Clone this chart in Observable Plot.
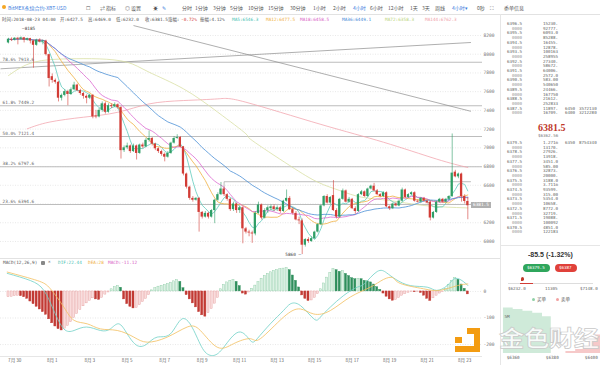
<!DOCTYPE html>
<html><head><meta charset="utf-8">
<script src="https://cdn.jsdelivr.net/npm/d3@7"></script>
<script src="https://cdn.jsdelivr.net/npm/@observablehq/plot@0.6"></script>
<style>
body{margin:0;background:#fff;}
#root{position:relative;width:600px;height:365px;overflow:hidden;font-family:"Noto Sans CJK SC","Noto Sans",sans-serif;background:#fff;}
.t{position:absolute;white-space:nowrap;line-height:1;}
.tb{font-size:5px;color:#555;top:5px;}
.info{font-size:4.4px;color:#555;top:18px;font-family:"DejaVu Sans Mono","Noto Sans CJK SC",monospace;}
.ob{font-size:4.2px;color:#666;font-family:"DejaVu Sans Mono",monospace;}
svg{position:absolute;overflow:visible;}
</style></head><body><div id="root"></div>
<script>
// ---------- DATA ----------
const opens  = [8120,8160,8150,8170,8160,8175,8150,8165,8140,8095,8150,8130,8140,7995,7760,7720,7700,7530,7560,7600,7570,7620,7670,7610,7580,7550,7530,7560,7340,7330,7400,7470,7380,7450,7440,7460,7430,6970,7000,7020,6960,7020,6940,7030,7010,7080,7100,7040,6990,6960,6930,6900,6940,7050,7100,7110,7010,6720,6580,6460,6440,6460,6310,6260,6300,6260,6330,6440,6500,6560,6500,6450,6340,6400,6330,6360,6135,6100,6090,6080,6300,6390,6250,6330,6350,6370,6340,6360,6320,6430,6460,6340,6300,6230,6220,5960,6020,6000,6030,6100,6180,6380,6480,6410,6490,6330,6260,6450,6540,6420,6450,6350,6320,6500,6530,6480,6560,6590,6540,6500,6480,6520,6370,6350,6400,6380,6430,6550,6470,6500,6520,6430,6420,6460,6430,6420,6250,6310,6420,6450,6420,6450,6480,6740,6690,6720,6480,6427.5];
const highs  = [8170,8175,8178,8180,8185,8180,8172,8170,8150,8160,8165,8150,8150,8000,7790,7735,7710,7575,7620,7615,7640,7700,7680,7625,7590,7565,7575,7570,7400,7420,7490,7490,7470,7470,7480,7470,7440,7020,7050,7030,7040,7030,7040,7050,7100,7180,7110,7050,7000,6975,6945,6960,7060,7120,7140,7120,7015,6730,6590,6480,6470,6470,6320,6320,6310,6340,6450,6520,6630,6580,6510,6460,6420,6410,6380,6370,6150,6120,6110,6320,6420,6400,6350,6380,6390,6390,6380,6375,6440,6550,6480,6360,6320,6260,6240,6030,6040,6050,6110,6190,6390,6490,6500,6480,6650,6350,6460,6560,6550,6470,6460,6370,6510,6545,6540,6570,6600,6620,6555,6510,6530,6530,6380,6410,6415,6440,6570,6560,6510,6530,6530,6445,6470,6470,6440,6430,6320,6430,6460,6460,6460,6490,7148,6760,6730,6730,6500,6469];
const lows   = [8110,8135,8140,8100,8150,8120,8140,8110,7850,8085,8120,8100,7980,7650,7690,7680,7490,7500,7545,7450,7560,7610,7600,7560,7520,7470,7515,7310,7310,7320,7380,7360,7370,7420,7430,7410,6880,6950,6980,6940,6950,6870,6930,6990,7000,7060,7020,6970,6940,6910,6850,6890,6930,7040,7090,7000,6700,6560,6440,6420,6430,6100,6240,6250,6240,6250,6190,6430,6490,6480,6430,6320,6320,6300,6300,5975,6080,6050,5980,6060,6290,6230,6240,6300,6330,6320,6320,6300,6310,6420,6330,6280,6220,6180,5860,5940,5980,5990,6020,6090,6170,6370,6400,6390,6320,6240,6250,6440,6410,6410,6340,6290,6310,6490,6470,6470,6550,6530,6490,6470,6470,6360,6330,6340,6370,6370,6420,6460,6460,6490,6420,6410,6410,6420,6400,6220,6240,6300,6410,6410,6410,6440,6470,6680,6670,6420,6400,6232];
const closes = [8160,8150,8170,8160,8175,8150,8165,8140,8095,8150,8130,8140,7995,7740,7720,7700,7530,7560,7600,7570,7620,7670,7610,7580,7550,7530,7560,7330,7330,7400,7470,7380,7450,7440,7460,7430,6970,7000,7020,6960,7020,6940,7030,7010,7080,7100,7040,6990,6960,6930,6900,6940,7050,7100,7110,7010,6720,6580,6460,6440,6460,6310,6260,6300,6260,6330,6440,6500,6560,6500,6450,6340,6400,6330,6360,6135,6100,6090,6080,6300,6390,6250,6330,6360,6370,6340,6360,6320,6430,6460,6340,6300,6230,6220,5960,6020,6000,6030,6100,6180,6380,6480,6410,6470,6330,6260,6450,6540,6420,6450,6350,6320,6500,6530,6480,6560,6590,6540,6500,6480,6520,6370,6350,6400,6380,6430,6550,6470,6500,6520,6430,6420,6460,6430,6410,6250,6310,6420,6450,6420,6450,6480,6730,6690,6720,6480,6427.5,6381.5];
const macdHist = [-22,-20,-18,-16,-18,-22,-28,-38,-48,-58,-68,-78,-88,-105,-120,-132,-142,-147,-140,-130,-116,-100,-85,-70,-56,-45,-35,-26,-30,-32,-24,-12,-4,8,16,20,14,-30,-48,-58,-64,-62,-52,-40,-28,-14,4,12,18,21,24,28,33,38,42,36,12,-14,-30,-45,-60,-78,-90,-95,-82,-66,-46,-24,8,24,34,40,43,36,20,-8,-12,-4,10,22,35,48,58,66,72,77,80,84,86,88,80,60,40,15,-15,-28,-36,-34,-24,-10,8,30,52,70,84,80,74,76,66,58,50,46,48,46,40,38,34,26,16,6,-8,-20,-30,-35,-32,-25,-16,-10,-5,-2,-3,-2,-6,-16,-28,-36,-26,-16,-8,-3,10,25,40,50,44,26,10,-11.12];
const difPts = [[-0.4,68],[7,41],[11.3,4],[14.5,-72],[17.7,-141],[21,-147],[25,-134],[29.4,-147],[32.6,-141],[35.3,-122],[38,-160],[41.2,-204],[44.4,-197],[47.6,-172],[51.8,-160],[55.6,-103],[59.3,-147],[62.5,-222],[65.7,-241],[68.9,-210],[73.7,-153],[77.4,-185],[79.6,-178],[83.8,-122],[88,-72],[90.2,-47],[93.4,-53],[97.7,-103],[99.8,-97],[103,-59],[107.3,-15],[111.6,16],[114,30],[118,75],[121,70],[124,45],[128.6,22],[134,16],[137,4],[140.4,22],[143,49],[145.7,36],[147,22.44]];
const deaPts = [[-0.4,73],[9.2,41],[13.4,10],[17.7,-59],[21,-109],[25.2,-122],[29.4,-141],[34.8,-147],[40.1,-172],[44.4,-191],[50.8,-172],[57.2,-134],[61.4,-147],[66.8,-210],[72,-197],[77.4,-178],[80.6,-178],[88,-97],[93.4,-66],[97.7,-85],[103,-72],[109.4,-21],[115.8,16],[120,45],[123,52],[125.4,30],[132.8,10],[138,4],[143.7,22],[147,28]];
const ma72Pts  = [[0,7772],[8,7914],[19,7950],[29,7950],[38,7914],[45,7808],[56,7630],[67,7380],[76,7149],[78,7078],[90,6811],[99,6633],[106,6544],[113,6473],[122,6437],[133,6384],[147,6358.3]];
const ma144Pts = [[6,7203],[13,7274],[24,7327],[35,7380],[45,7469],[56,7505],[67,7523],[76,7487],[100,7250],[120,7060],[137,6880],[147,6790]];
const fibPcts   = ["78.6%","61.8%","50.0%","38.2%","23.6%"];
const fibPrices = [7913.6,7449.2,7121.4,6797.6,6394.6];
const trendLines = [{i1:40,p1:8306,i2:148,p2:7390},{i1:-2.56,p1:7844,i2:148,p2:8125}];
const userLine = {i1:69,i2:148,p:6638,pTick:6548};
const priceTicks = [6000,6200,6400,6600,6800,7000,7200,7400,7600,7800,8000,8200];
const macdTicks = [0,-100,-200];
const dateIdx = [2,14,26,38,50,62,74,86,98,110,122,134,146];
const dateLabels = ["7月 30","8月 1","8月 3","8月 5","8月 7","8月 9","8月 11","8月 13","8月 15","8月 17","8月 19","8月 21","8月 23"];
const highMark = {i:4,p:8185}, lowMark = {i:94,p:5860};
const lastPrice = 6381.5;
const maLegend = [["MA5:6546.3","#45c2b1",232],["MA12:6477.5","#f0b040",266],["MA18:6458.5","#d75cc4",300],["MA36:6449.1","#3f86d6",342],["MA72:6358.3","#b9d37a",385],["MA144:6762.3","#f0a0a8",425]];
const maSpecs = [[5,"#5fcabd"],[12,"#f0b040"],[18,"#dc6ad0"],[36,"#4a8fd6"]];
const askPrices = ["6396.5","6395.5","6394.5","6393.5","6392.5","6391.5","6390.5","6389.5","6388.5","6387.5"];
const askA = ["15230.","6093.0","16455.","100163","27340.","64006.","583.00","24466.","21612.","11897."];
const askB = ["92777.","85288.","12878.","258955","58672.","2572.0","540650","167750","252833","16709."];
const bidPrices = ["6379.5","6378.5","6377.5","6376.5","6375.5","6374.5","6373.5","6372.5","6371.5","6370.5"];
const bidA = ["1.271m","27926.","3451.0","32873.","3188.0","93599.","5354.0","8772.0","19088.","4851.0"];
const bidB = ["13170.","13918.","585.00","20000.","3.711m","315.00","10658.","32719.","100092","122183"];
const bidDepthP = [6355,6360,6365,6370,6375,6379.5];
const bidDepthV = [7.1,6.9,6.7,6.4,6.1,5.6];
const askDepthP = [6387,6392,6396,6399,6402,6406];
const askDepthV = [0.3,0.6,1.0,2.0,2.8,3.2];
const depthTicks = [6360,6380,6400];

// ---------- BUILD ----------
const root = document.getElementById("root");
const candles = opens.map((o,i)=>({i,open:o,high:highs[i],low:lows[i],close:closes[i]}));
const UP="#2f9e66", DN="#d23c36";
const col = d => d.close>=d.open?UP:DN;
const xDom=[-2.56,151.7];
const fibs = fibPcts.map((p,k)=>({pct:p,price:fibPrices[k]}));
const pts = a => a.map(([i,v])=>({i,v}));
// the current-price tag covers the nearest axis label, as in the original
const labelTicks = priceTicks.filter(t=>Math.abs(t-lastPrice)>60);

const main = Plot.plot({
  width:500,height:233,marginTop:0,marginBottom:0,marginLeft:0,marginRight:18,
  x:{domain:xDom,axis:null}, y:{domain:[5818,8306.5]},
  style:{fontFamily:"DejaVu Sans Mono",fontSize:"4.6px",background:"transparent",color:"#777"},
  marks:[
    Plot.ruleY(priceTicks,{stroke:"#d8d8d8",strokeDasharray:"1,1.5",strokeWidth:0.6}),
    Plot.axisY({anchor:"right",ticks:labelTicks,tickSize:0,tickPadding:1,label:null,tickFormat:d=>String(d),fill:"#777"}),
    Plot.ruleY(fibs,{y:"price",stroke:"#bdbdbd",strokeWidth:1.1}),
    Plot.text(fibs,{y:"price",frameAnchor:"left",text:d=>`${d.pct} ${d.price.toFixed(1)}`,textAnchor:"start",dx:2,dy:-3.2,fill:"#666",fontSize:4.4}),
    Plot.link(trendLines,{x1:"i1",y1:"p1",x2:"i2",y2:"p2",stroke:"#8c8c8c",strokeWidth:0.7}),
    Plot.link([userLine],{x1:"i1",y1:"p",x2:"i2",y2:"p",stroke:"#a0a0a0",strokeWidth:0.7}),
    Plot.link([userLine],{x1:"i1",y1:"p",x2:"i1",y2:"pTick",stroke:"#a0a0a0",strokeWidth:0.7}),
    Plot.line(pts(ma144Pts),{x:"i",y:"v",stroke:"#f2a7b0",strokeWidth:0.8,curve:"natural"}),
    Plot.line(pts(ma72Pts),{x:"i",y:"v",stroke:"#d9dfa4",strokeWidth:0.8,curve:"natural"}),
    ...maSpecs.map(([k,c])=>Plot.lineY(candles,Plot.windowY({k,anchor:"end"},{x:"i",y:"close",stroke:c,strokeWidth:0.8}))),
    Plot.ruleX(candles,{x:"i",y1:"low",y2:"high",stroke:col,strokeWidth:0.6}),
    Plot.rect(candles,{x1:d=>d.i-0.36,x2:d=>d.i+0.36,y1:"open",y2:"close",fill:col}),
    Plot.text([highMark],{x:"i",y:"p",text:d=>"—"+d.p,textAnchor:"start",dx:1,dy:-8,fill:"#444",fontSize:4.4}),
    Plot.text([lowMark],{x:"i",y:"p",text:d=>d.p+" —",textAnchor:"end",dx:-1,dy:0,fill:"#444",fontSize:4.4})
  ]});
main.style.left="0px"; main.style.top="25px";
root.appendChild(main);

const lbl = new Map(dateIdx.map((d,k)=>[d,dateLabels[k]]));
const hist = macdHist.map((v,i)=>({i,v,rise:i>0?v>=macdHist[i-1]:true}));
const histFill = d => d.v>=0 ? (d.rise?"#dcf1e4":"#2f8f5c") : (d.rise?"#f9dcdc":"#c23a34");
const histStroke = d => d.v>=0 ? (d.rise?"#86c9a0":"#2f8f5c") : (d.rise?"#e49a9a":"#c23a34");
const macd = Plot.plot({
  width:500,height:107,marginTop:0,marginBottom:9,marginLeft:0,marginRight:18,
  x:{domain:xDom}, y:{domain:[-245,124]},
  style:{fontFamily:"DejaVu Sans Mono",fontSize:"4.6px",background:"transparent",color:"#777"},
  marks:[
    Plot.ruleY(macdTicks,{stroke:"#d8d8d8",strokeDasharray:"1,1.5",strokeWidth:0.6}),
    Plot.axisY({anchor:"right",ticks:macdTicks,tickSize:0,tickPadding:1,label:null,tickFormat:d=>String(d),fill:"#777"}),
    Plot.axisX({ticks:dateIdx,tickFormat:d=>lbl.get(d),tickSize:0,tickPadding:2,label:null,fill:"#666",fontFamily:"Noto Sans CJK SC"}),
    Plot.rect(hist,{x1:d=>d.i-0.33,x2:d=>d.i+0.33,y1:0,y2:"v",fill:histFill,stroke:histStroke,strokeWidth:0.4}),
    Plot.line(pts(difPts),{x:"i",y:"v",stroke:"#6fd0c6",strokeWidth:0.8,curve:"natural"}),
    Plot.line(pts(deaPts),{x:"i",y:"v",stroke:"#f2bf5e",strokeWidth:0.8,curve:"natural"})
  ]});
macd.style.left="0px"; macd.style.top="258px";
root.appendChild(macd);

function txt(x,y,s,cls,extra){const e=document.createElement("div");e.className="t "+cls;e.style.left=x+"px";if(y!=null)e.style.top=y+"px";e.textContent=s;if(extra)Object.assign(e.style,extra);root.appendChild(e);return e;}
function box(x,y,w,h,st){const e=document.createElement("div");e.style.position="absolute";Object.assign(e.style,{left:x+"px",top:y+"px",width:w+"px",height:h+"px"},st);root.appendChild(e);return e;}

// frame lines
box(0,14,600,0.6,{background:"#e2e2e2"});
box(500,14,0.6,351,{background:"#e6e6e6"});
box(0,258,500,0.6,{background:"#e2e2e2"});
box(0,356,482,0.6,{background:"#e6e6e6"});

// toolbar
box(1.5,5,4,4,{background:"#f5a623",borderRadius:"50%"});
txt(8,null,"BitMEX永续合约-XBT-USD","tb",{color:"#3b7ddd"});
const tbItems=[[86,"☐"],[100,"⇄ 指标"],[125,"◎ 设置"],[153,"☀"],[182,"分时"],[195,"1分钟"],[213,"3分钟"],[230,"5分钟"],[248,"10分钟"],[268,"15分钟"],[290,"30分钟"],[313,"1小时"],[333,"2小时"],[370,"6小时"],[388,"12小时"],[410,"1天"],[422,"3天"],[435,"周线"],[477,"0秒"],[490,"⛶"],[504,"委单信息"]];
tbItems.forEach(([x,s])=>txt(x,null,s,"tb"));
txt(162,null,"✎","tb",{color:"#3b7ddd"});
txt(353,null,"4小时","tb",{color:"#3b7ddd"});
txt(452,null,"4小时▾","tb",{color:"#3b7ddd"});

// info line
const infoItems=[[2,"时间:2018-08-23 04:00"],[60,"开:6427.5"],[88,"高:6469.0"],[116,"低:6232.0"],[145,"收:6381.5"],[168,"涨幅:"],[200,"振幅:4.12%"]];
infoItems.forEach(([x,s])=>txt(x,null,s,"info"));
txt(181,null,"-0.72%","info",{color:"#d23c36"});
maLegend.forEach(([s,c,x])=>txt(x,null,s,"info",{color:c}));

// MACD legend
txt(3,261,"MACD(12,26,9)","info",{top:"261px"});
box(41,261,4,4,{background:"#888",borderRadius:"1px"});
txt(48,261,"×","info",{top:"260px",color:"#666"});
txt(58,261,"DIF:22.44","info",{top:"261px",color:"#4fc2b4"});
txt(88,261,"DEA:28","info",{top:"261px",color:"#f0b040"});
txt(108,261,"MACD:-11.12","info",{top:"261px",color:"#d75cc4"});

// current price tag
const ty = main.scale("y").apply(lastPrice)+25;
txt(471,ty-3.2,String(lastPrice),"ob",{background:"#b0b0b0",color:"#fff",padding:"1px 2px",fontSize:"4.4px"});

// order book
const rowH=4.7;
askPrices.forEach((p,k)=>{
  const y=22+2*k*rowH;
  txt(507,y,p,"ob"); txt(543,y,askA[k],"ob");
  txt(512,y+rowH,"0000","ob",{color:"#999"}); txt(543,y+rowH,askB[k],"ob");
});
const ya=22+18*rowH;
txt(565,ya,"6450","ob"); txt(579,ya,"3572130","ob");
txt(565,ya+rowH,"6400","ob"); txt(579,ya+rowH,"3212280","ob");
txt(538,123,"6381.5","t",{fontFamily:"Liberation Serif",fontWeight:"bold",fontSize:"10px",color:"#c0392b"});
txt(538,134,"$6362.56","ob",{color:"#777"});
bidPrices.forEach((p,k)=>{
  const y=141+2*k*rowH;
  txt(507,y,p,"ob"); txt(543,y,bidA[k],"ob");
  txt(512,y+rowH,"0000","ob",{color:"#999"}); txt(543,y+rowH,bidB[k],"ob");
});
txt(565,141,"6350","ob"); txt(579,141,"8754340","ob");
box(500,245,100,0.6,{background:"#e6e6e6"});
txt(528,251,"-85.5 (-1.32%)","t",{fontSize:"7px",fontWeight:"bold",color:"#333",fontFamily:"Liberation Sans"});
box(523,263.5,27,8,{background:"#2fa65c",borderRadius:"4px"});
txt(527,265.5,"$6379.5","ob",{color:"#fff"});
box(555,263.5,22,8,{background:"#e0413a",borderRadius:"4px"});
txt(559,265.5,"$6387","ob",{color:"#fff"});
box(508,282.5,85,1.6,{background:"#ddd"});
box(520,282.5,13,1.6,{background:"#d23c36"});
box(520.5,277,3.5,4,{background:"#c0392b",borderRadius:"50% 50% 50% 0"});
txt(508,287,"$6232.0","ob"); txt(545,287,"11305","ob"); txt(580,287,"$7148.0","ob");
box(532,297.5,3.4,3.4,{background:"#8fd0a6",borderRadius:"50%"});
txt(537,297,"买单","t",{fontSize:"4.5px",color:"#555"});
box(556,297.5,3.4,3.4,{background:"#f2a1a1",borderRadius:"50%"});
txt(561,297,"卖单","t",{fontSize:"4.5px",color:"#555"});

// depth chart
const bidD = bidDepthP.map((p,k)=>({p,v:bidDepthV[k]}));
const askD = askDepthP.map((p,k)=>({p,v:askDepthV[k]}));
const depth = Plot.plot({
  width:100,height:62,marginTop:0,marginBottom:10,marginLeft:0,marginRight:0,
  x:{domain:[6353.5,6404.7]}, y:{domain:[0,7.9],axis:null},
  style:{fontFamily:"DejaVu Sans Mono",fontSize:"4.3px",background:"transparent",color:"#777"},
  marks:[
    Plot.areaY(bidD,{x:"p",y:"v",fill:"#cfead9",curve:"step-before"}),
    Plot.areaY(askD,{x:"p",y:"v",fill:"#f6c9c9",curve:"step-after"}),
    Plot.axisX({ticks:depthTicks,tickFormat:d=>"$"+d,tickSize:0,tickPadding:2,label:null,fill:"#666"}),
    Plot.text(["5M"],{x:6355.5,y:5.6,text:d=>d,textAnchor:"start",fill:"#666",fontSize:4.3})
  ]});
depth.style.left="500px"; depth.style.top="301px";
root.appendChild(depth);

// watermark
const lg={background:"#f39c12"};
box(467,328,7,6,lg); box(473.5,328,6.5,24,lg); box(455,345.5,25,6.5,lg); box(455,337,7,6,lg);
txt(499,325,"金色财经","t",{fontSize:"25.5px",fontWeight:"bold",color:"rgba(255,255,255,0.85)",WebkitTextStroke:"0.8px #c8c8c8",letterSpacing:"-0.6px",fontFamily:"Noto Sans CJK SC",transform:"scale(1,0.86)",transformOrigin:"0 0"});
</script></body></html>
